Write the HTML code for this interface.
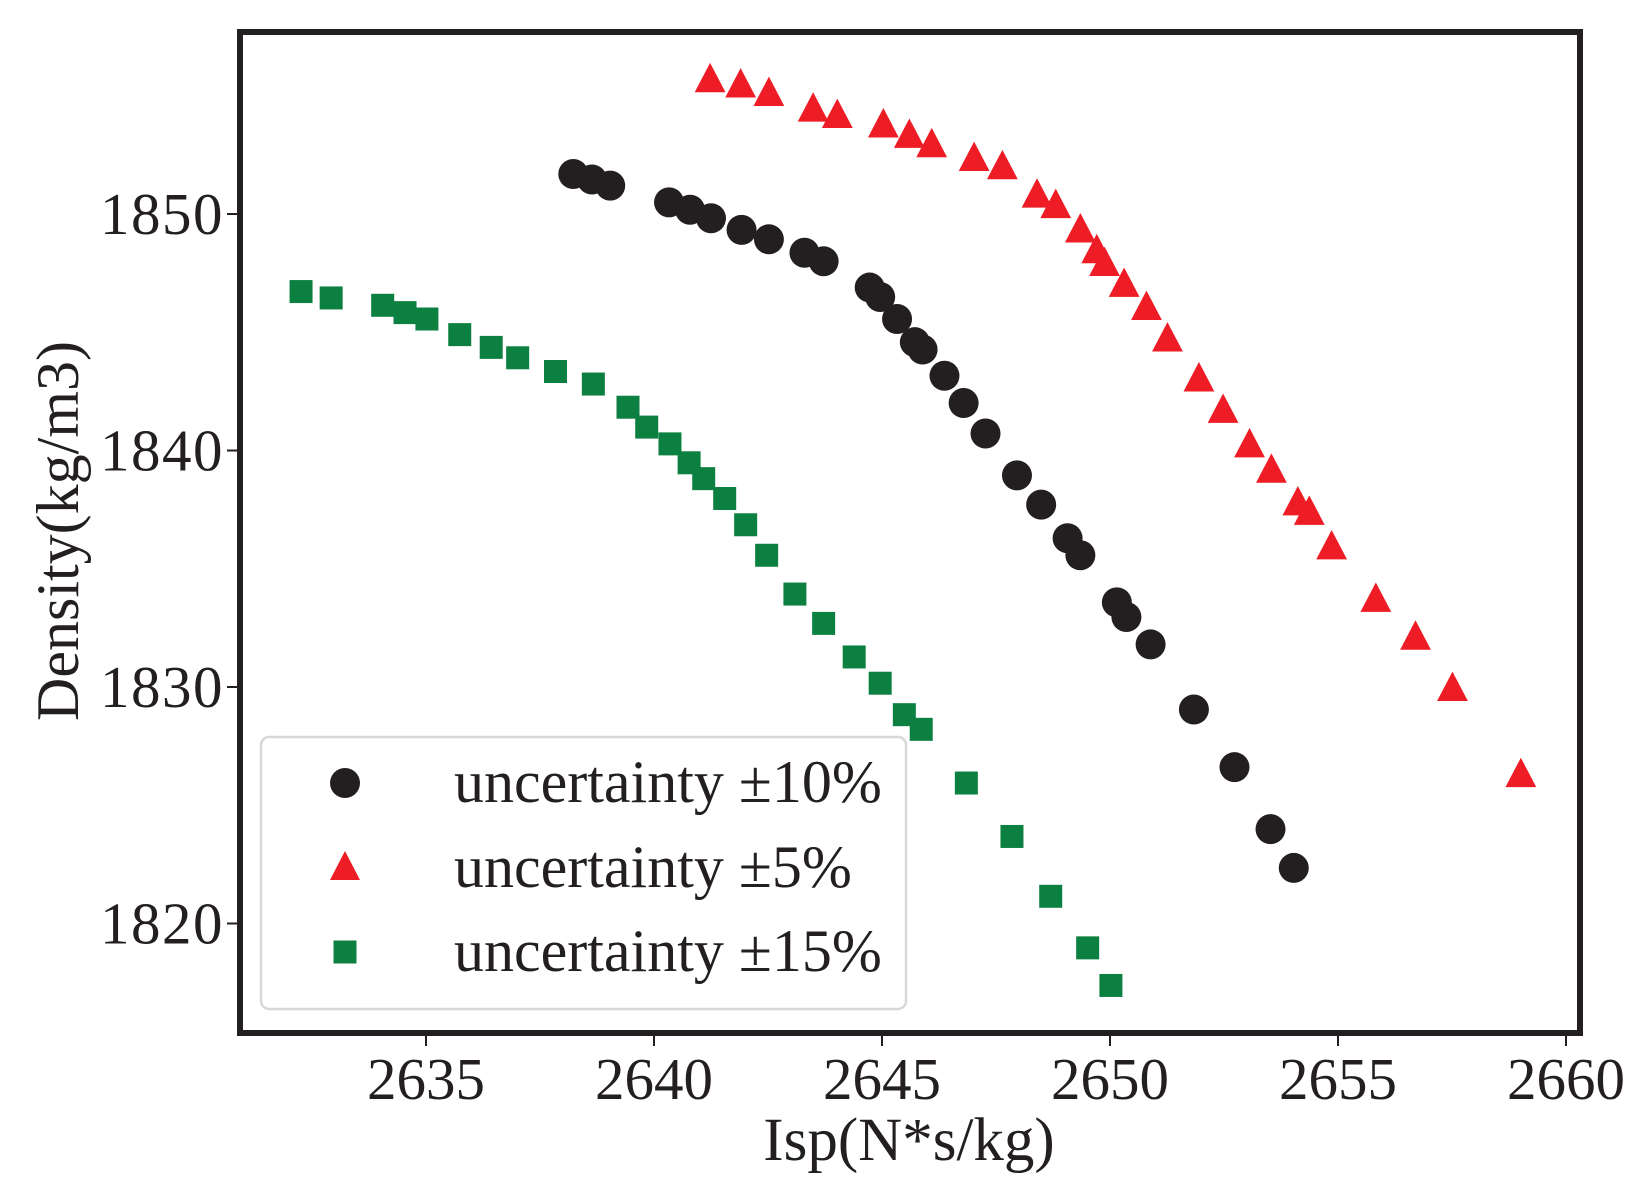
<!DOCTYPE html>
<html><head><meta charset="utf-8"><style>
html,body{margin:0;padding:0;background:#fff;}
svg{display:block;font-family:"Liberation Serif",serif;}
</style></head><body>
<svg id="chart" width="1648" height="1200" viewBox="0 0 1648 1200" xmlns="http://www.w3.org/2000/svg">
<rect x="0" y="0" width="1648" height="1200" fill="#fff"/>
<g id="marks"></g>
<g id="axes"></g>
</svg>
<script>
const xTicks = [2635, 2640, 2645, 2650, 2655, 2660];
const yTicks = [1820, 1830, 1840, 1850];
const blackX = [2638.23,2638.64,2639.04,2640.33,2640.79,2641.25,2641.92,2642.52,2643.30,2643.72,2644.73,2644.96,2645.33,2645.72,2645.89,2646.37,2646.79,2647.27,2647.96,2648.49,2649.07,2649.35,2650.15,2650.36,2650.89,2651.84,2652.73,2653.52,2654.03];
const blackY = [1851.69,1851.46,1851.20,1850.49,1850.18,1849.82,1849.33,1848.93,1848.36,1848.00,1846.89,1846.49,1845.56,1844.58,1844.27,1843.16,1842.01,1840.72,1838.95,1837.71,1836.29,1835.57,1833.58,1832.96,1831.80,1829.05,1826.61,1823.99,1822.35];
const redX = [2641.23,2641.90,2642.52,2643.49,2644.02,2645.03,2645.60,2646.09,2647.02,2647.64,2648.40,2648.81,2649.35,2649.71,2649.88,2650.31,2650.80,2651.26,2651.95,2652.48,2653.06,2653.54,2654.12,2654.37,2654.86,2655.83,2656.70,2657.51,2659.01];
const redY = [1855.68,1855.46,1855.10,1854.44,1854.17,1853.77,1853.33,1852.93,1852.35,1852.00,1850.80,1850.36,1849.33,1848.45,1847.91,1847.03,1846.05,1844.72,1843.03,1841.70,1840.24,1839.17,1837.79,1837.39,1835.93,1833.71,1832.11,1829.94,1826.30];
const greenX = [2632.26,2632.92,2634.05,2634.54,2635.02,2635.74,2636.43,2637.01,2637.84,2638.67,2639.43,2639.84,2640.35,2640.77,2641.09,2641.55,2642.01,2642.47,2643.09,2643.72,2644.39,2644.96,2645.49,2645.86,2646.85,2647.85,2648.70,2649.51,2650.02];
const greenY = [1846.72,1846.45,1846.14,1845.83,1845.56,1844.90,1844.36,1843.92,1843.34,1842.81,1841.83,1840.99,1840.28,1839.48,1838.81,1837.97,1836.86,1835.57,1833.93,1832.69,1831.27,1830.16,1828.83,1828.21,1825.94,1823.68,1821.15,1818.97,1817.38];

const NS = "http://www.w3.org/2000/svg";
const X0 = 426, XS = 45.6, Y0 = 214, YS = 23.65;
function sx(v){ return X0 + (v - 2635) * XS; }
function sy(v){ return Y0 - (v - 1850) * YS; }
function mk(tag, attrs, parent){
  const e = document.createElementNS(NS, tag);
  for (const k in attrs) e.setAttribute(k, attrs[k]);
  parent.appendChild(e);
  return e;
}
const marks = document.getElementById('marks');
const axes = document.getElementById('axes');
function tri(cx, cy, s){ return `${cx},${cy-s*0.6} ${cx-s*0.55},${cy+s*0.45} ${cx+s*0.55},${cy+s*0.45}`; }

for (let i = 0; i < greenX.length; i++) {
  const e = mk('rect', {x: sx(greenX[i]) - 11.5, y: sy(greenY[i]) - 11.5, width: 23, height: 23, fill: '#0c8040'}, marks);
  
  
}
for (let i = 0; i < blackX.length; i++) {
  const e = mk('circle', {cx: sx(blackX[i]), cy: sy(blackY[i]), r: 15, fill: '#231f20'}, marks);
  
  
}
for (let i = 0; i < redX.length; i++) {
  const e = mk('polygon', {points: tri(sx(redX[i]), sy(redY[i]), 28), fill: '#ee1c25'}, marks);
  
  
}

const frame = mk('rect', {x: 240, y: 32, width: 1340, height: 1001, fill: 'none', stroke: '#231f20', 'stroke-width': 6}, axes);



for (const t of xTicks) {
  const x = sx(t);
  const l = mk('line', {x1: x, y1: 1036, x2: x, y2: 1046, stroke: '#231f20', 'stroke-width': 2}, axes);
  
  
  const tx = mk('text', {x: x, y: 1099, 'font-size': 59, 'text-anchor': 'middle', fill: '#231f20'}, axes);
  tx.textContent = t;
  
  
}
for (const t of yTicks) {
  const y = sy(t);
  const l = mk('line', {x1: 227, y1: y, x2: 237, y2: y, stroke: '#231f20', 'stroke-width': 2}, axes);
  
  
  const tx = mk('text', {x: 224, y: y + 20, 'font-size': 59, 'text-anchor': 'end', 'letter-spacing': 1.5, fill: '#231f20'}, axes);
  tx.textContent = t;
  
  
}
</script>
<script>
(function(){
  const svg = document.getElementById('chart');
  const NS = "http://www.w3.org/2000/svg";
  function mk(tag, attrs){ const e = document.createElementNS(NS, tag); for (const k in attrs) e.setAttribute(k, attrs[k]); svg.appendChild(e); return e; }
  const xl = mk('text', {x: 909, y: 1160, 'font-size': 61, 'text-anchor': 'middle', fill: '#231f20'});
  xl.textContent = 'Isp(N*s/kg)';
  
  
  const yl = mk('text', {x: 0, y: 0, 'font-size': 60, 'text-anchor': 'middle', fill: '#231f20', transform: 'translate(78,531) rotate(-90)'});
  yl.textContent = 'Density(kg/m3)';
  
  

  const lg = mk('rect', {x: 261, y: 737, width: 645, height: 272, rx: 8, fill: '#fff', 'fill-opacity': 0.85, stroke: '#d8d8d8', 'stroke-width': 2.5});
  
  
  const items = ['uncertainty \u00b110%', 'uncertainty \u00b15%', 'uncertainty \u00b115%'];
  const ys = [783, 868, 952];
  const c = mk('circle', {cx: 345, cy: ys[0], r: 15, fill: '#231f20'});
  
  
  const t = mk('polygon', {points: `345,${ys[1]-17} 330,${ys[1]+12} 360,${ys[1]+12}`, fill: '#ee1c25'});
  
  
  const s = mk('rect', {x: 333.5, y: ys[2]-11.5, width: 23, height: 23, fill: '#0c8040'});
  
  
  for (let i = 0; i < 3; i++) {
    const tx = mk('text', {x: 454, y: ys[i] + 19, 'font-size': 60, fill: '#231f20'});
    tx.textContent = items[i];
    
    
  }
})();
</script>
</body></html>
